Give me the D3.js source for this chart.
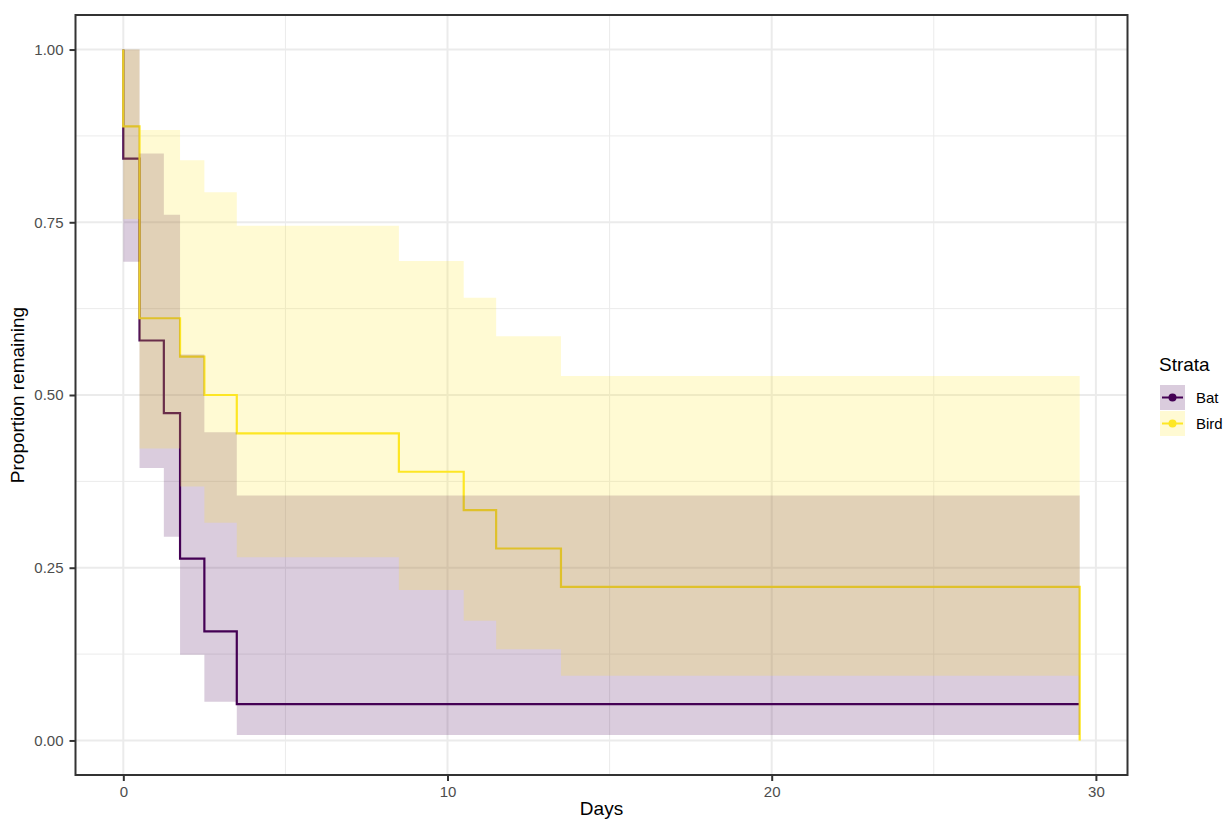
<!DOCTYPE html>
<html>
<head>
<meta charset="utf-8">
<script src="https://cdn.jsdelivr.net/npm/d3@7"></script>
<style>
  body { margin: 0; background: #fff; }
  text { font-family: "Liberation Sans", Arial, sans-serif; }
</style>
</head>
<body>
<div id="chart-area"></div>
<script>
// Kaplan-Meier estimates
var strata = ["Bat", "Bird"];
var colors = ["#440154", "#FDE725"];

var batTime  = [0, 0, 0.5, 1.25, 1.75, 2.5, 3.5, 29.5];
var batSurv  = [1, 0.8421, 0.5789, 0.4737, 0.2632, 0.1579, 0.0526, 0.0526];
var batUpper = [1, 1, 0.8495, 0.7609, 0.5585, 0.4460, 0.3546, 0.3546];
var batLower = [1, 0.6929, 0.3945, 0.2949, 0.1240, 0.0559, 0.0078, 0.0078];

var birdTime  = [0, 0, 0.5, 1.75, 2.5, 3.5, 8.5, 10.5, 11.5, 13.5, 29.5];
var birdSurv  = [1, 0.8889, 0.6111, 0.5556, 0.5, 0.4444, 0.3889, 0.3333, 0.2778, 0.2222, 0];
var birdUpper = [1, 1, 0.8834, 0.8398, 0.7936, 0.7450, 0.6940, 0.6407, 0.5850, 0.5274, null];
var birdLower = [1, 0.7549, 0.4227, 0.3675, 0.3150, 0.2652, 0.2179, 0.1734, 0.1319, 0.0936, null];

var xTicks = [0, 10, 20, 30];
var xMinor = [5, 15, 25];
var yTicks = [0, 0.25, 0.5, 0.75, 1];
var yMinor = [0.125, 0.375, 0.625, 0.875];

var svgW = 1225, svgH = 820;
var panel = { left: 75.5, right: 1127.5, top: 15, bottom: 775 };

var svg = d3.select("#chart-area").append("svg")
    .attr("width", svgW)
    .attr("height", svgH);

var x = d3.scaleLinear().domain([-1.475, 30.975]).range([panel.left, panel.right]);
var y = d3.scaleLinear().domain([-0.05, 1.05]).range([panel.bottom, panel.top]);

function rows(time, surv, up, lo) {
    return time.map((t, i) => {
        return { t: t, s: surv[i], u: up[i], l: lo[i] };
    });
}
var series = [
    rows(batTime, batSurv, batUpper, batLower),
    rows(birdTime, birdSurv, birdUpper, birdLower)
];

// grid
var grid = svg.append("g");
xMinor.forEach((d) => {
    grid.append("line").attr("x1", x(d)).attr("x2", x(d))
        .attr("y1", panel.top).attr("y2", panel.bottom)
        .attr("stroke", "#ebebeb").attr("stroke-width", 1);
});
yMinor.forEach((d) => {
    grid.append("line").attr("y1", y(d)).attr("y2", y(d))
        .attr("x1", panel.left).attr("x2", panel.right)
        .attr("stroke", "#ebebeb").attr("stroke-width", 1);
});
xTicks.forEach((d) => {
    grid.append("line").attr("x1", x(d)).attr("x2", x(d))
        .attr("y1", panel.top).attr("y2", panel.bottom)
        .attr("stroke", "#ebebeb").attr("stroke-width", 2);
});
yTicks.forEach((d) => {
    grid.append("line").attr("y1", y(d)).attr("y2", y(d))
        .attr("x1", panel.left).attr("x2", panel.right)
        .attr("stroke", "#ebebeb").attr("stroke-width", 2);
});

// survival lines (drawn under the ribbons)
var line = d3.line()
    .x((d) => x(d.t))
    .y((d) => y(d.s))
    .curve(d3.curveStepAfter);

series.forEach((data, i) => {
    svg.append("path")
        .datum(data)
        .attr("fill", "none")
        .attr("stroke", colors[i])
        .attr("stroke-width", 2.2)
        .attr("d", line);
});

// confidence ribbons
var area = d3.area()
    .x((d) => x(d.t))
    .y0((d) => y(d.l))
    .y1((d) => y(d.u))
    .curve(d3.curveStepAfter);

series.forEach((data, i) => {
    var band = data.filter((d) => d.u != null);
    var last = band[band.length - 1];
    var end = data[data.length - 1].t;
    if (last.t < end) band.push({ t: end, u: last.u, l: last.l });
    svg.append("path")
        .datum(band)
        .attr("fill", colors[i])
        .attr("fill-opacity", 0.2)
        .attr("d", area);
});

// panel border
svg.append("rect")
    .attr("x", panel.left).attr("y", panel.top)
    .attr("width", panel.right - panel.left)
    .attr("height", panel.bottom - panel.top)
    .attr("fill", "none")
    .attr("stroke", "#333333")
    .attr("stroke-width", 2);

// axes
var xAxis = svg.append("g")
    .attr("transform", "translate(0," + panel.bottom + ")")
    .call(d3.axisBottom(x).tickValues(xTicks).tickSize(6).tickPadding(5).tickFormat(d3.format("d")));
var yAxis = svg.append("g")
    .attr("transform", "translate(" + panel.left + ",0)")
    .call(d3.axisLeft(y).tickValues(yTicks).tickSize(6).tickPadding(6).tickFormat(d3.format(".2f")));

[xAxis, yAxis].forEach((a) => {
    a.select(".domain").remove();
    a.selectAll(".tick line").attr("stroke", "#333333").attr("stroke-width", 2);
    a.selectAll(".tick text")
        .attr("fill", "#4d4d4d")
        .style("font-size", "15px")
        .style("font-family", "'Liberation Sans', Arial, sans-serif");
});

// axis titles
svg.append("text")
    .attr("x", (panel.left + panel.right) / 2)
    .attr("y", 815)
    .attr("text-anchor", "middle")
    .style("font-size", "19px")
    .style("fill", "black")
    .text("Days");

svg.append("text")
    .attr("transform", "translate(24," + ((panel.top + panel.bottom) / 2) + ") rotate(-90)")
    .attr("text-anchor", "middle")
    .style("font-size", "19px")
    .style("fill", "black")
    .text("Proportion remaining");

// legend
var legend = svg.append("g").attr("transform", "translate(1160,385)");
legend.append("text")
    .attr("x", -1)
    .attr("y", -14)
    .style("font-size", "19px")
    .style("fill", "black")
    .text("Strata");

strata.forEach((s, i) => {
    var row = legend.append("g").attr("transform", "translate(0," + (i * 26) + ")");
    row.append("rect")
        .attr("width", 25).attr("height", 25)
        .attr("fill", colors[i])
        .attr("fill-opacity", 0.2);
    row.append("line")
        .attr("x1", 2).attr("x2", 23)
        .attr("y1", 12.5).attr("y2", 12.5)
        .attr("stroke", colors[i])
        .attr("stroke-width", 2);
    row.append("circle")
        .attr("cx", 12.5).attr("cy", 12.5).attr("r", 4)
        .attr("fill", colors[i]);
    row.append("text")
        .attr("x", 36)
        .attr("y", 12.5)
        .attr("dy", "0.36em")
        .style("font-size", "15px")
        .style("fill", "black")
        .text(s);
});
</script>
</body>
</html>
